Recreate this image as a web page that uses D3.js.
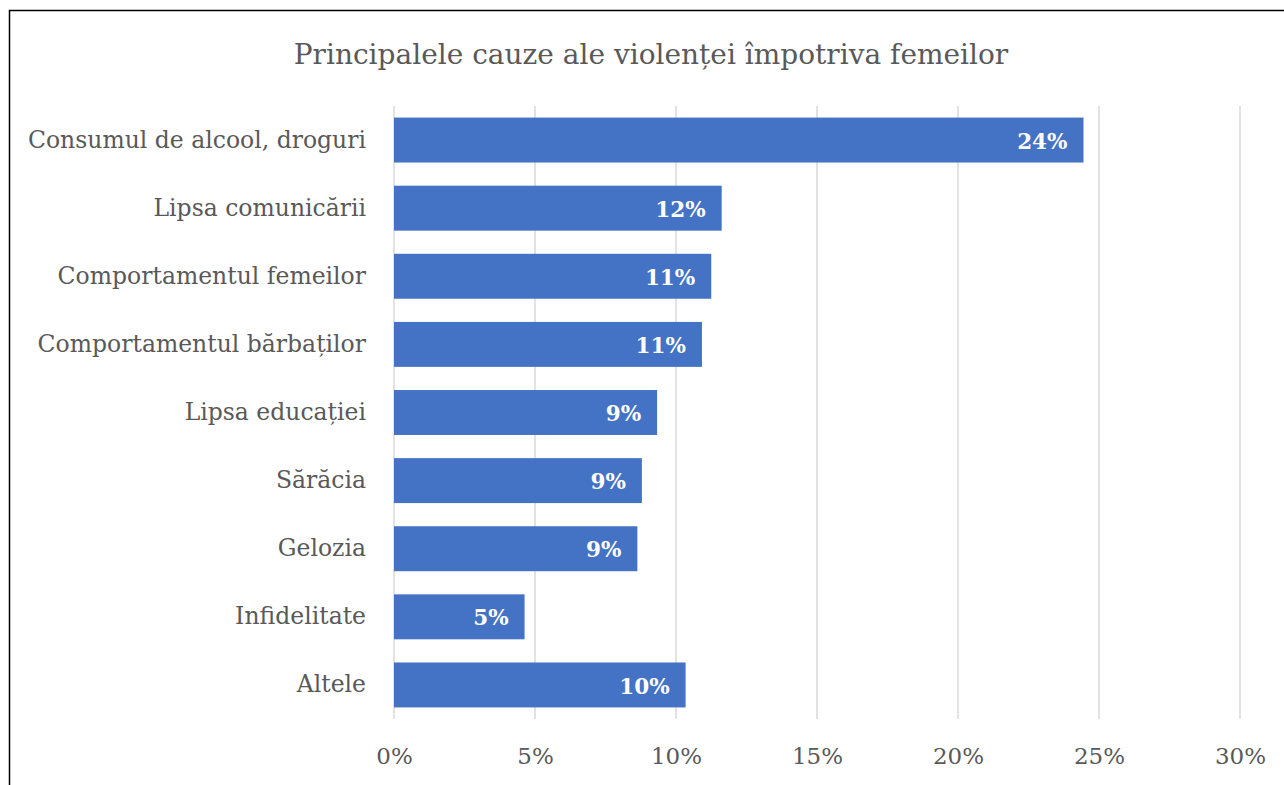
<!DOCTYPE html>
<html>
<head>
<meta charset="utf-8">
<title>cauze</title>
<script src="https://d3js.org/d3.v7.min.js"></script>
<style>
body{margin:0;background:#fff;}
text{font-family:"DejaVu Serif",serif;}
</style>
</head>
<body>
<svg width="1284" height="785" id="mainsvg"></svg>
<script>
// data
const categories=['Consumul de alcool, droguri','Lipsa comunicării','Comportamentul femeilor',
  'Comportamentul bărbaților','Lipsa educației','Sărăcia','Gelozia','Infidelitate','Altele'];
const values=[24.45,11.62,11.25,10.92,9.33,8.79,8.63,4.63,10.34];
const ticks=[0,5,10,15,20,25,30];
const title='Principalele cauze ale violenței împotriva femeilor';

const svg=d3.select('#mainsvg');
const width=+svg.attr('width');
const height=+svg.attr('height');
const margin={top:106,right:44,bottom:66,left:394};
const innerWidth=width-margin.left-margin.right;
const innerHeight=height-margin.top-margin.bottom;

// chart border (bottom/right run past the window)
svg.append('path')
  .attr('d',`M9.5,${height}V10.5H${width}`)
  .attr('fill','none').attr('stroke','#000').attr('stroke-width',1.5);

svg.append('text')
  .attr('x',651).attr('y',64)
  .attr('text-anchor','middle')
  .attr('fill','#595959')
  .style('font-size','28px')
  .text(title);

const g=svg.append('g').attr('transform',`translate(${margin.left},${margin.top})`);

const x=d3.scaleLinear().domain([0,30]).range([0,innerWidth]);
const y=d3.scaleBand().domain(categories).range([0,innerHeight]).paddingInner(0.34).paddingOuter(0.17);

// grid
g.selectAll('.grid').data(ticks).enter().append('line')
  .attr('class','grid')
  .attr('x1',d=>x(d)).attr('x2',d=>x(d))
  .attr('y1',0).attr('y2',innerHeight)
  .attr('stroke','#d9d9d9').attr('stroke-width',1.5);

const xaxis=d3.axisBottom(x).tickValues(ticks).tickFormat(d=>d+'%').tickSize(0).tickPadding(29);
const xg=g.append('g').attr('transform',`translate(0,${innerHeight})`).call(xaxis);
xg.select('.domain').remove();
xg.attr('font-family','DejaVu Serif').attr('font-size',23);
xg.selectAll('text').attr('fill','#595959');

const yaxis=d3.axisLeft(y).tickSize(0).tickPadding(28);
const yg=g.append('g').call(yaxis);
yg.select('.domain').remove();
yg.attr('font-family','DejaVu Serif').attr('font-size',23.5);
yg.selectAll('text').attr('fill','#595959');

g.selectAll('.bar').data(values).enter().append('rect')
  .attr('class','bar')
  .attr('x',0)
  .attr('y',(d,i)=>y(categories[i]))
  .attr('width',d=>x(d))
  .attr('height',y.bandwidth())
  .attr('fill','#4472c4');

g.selectAll('.lbl').data(values).enter().append('text')
  .attr('class','lbl')
  .attr('x',d=>x(d)-16)
  .attr('y',(d,i)=>y(categories[i])+y.bandwidth()/2)
  .attr('dy','0.4em')
  .attr('text-anchor','end')
  .attr('fill','#fff')
  .style('font-size','21.5px')
  .style('font-weight','bold')
  .text(d=>Math.round(d)+'%');
</script>
</body>
</html>
